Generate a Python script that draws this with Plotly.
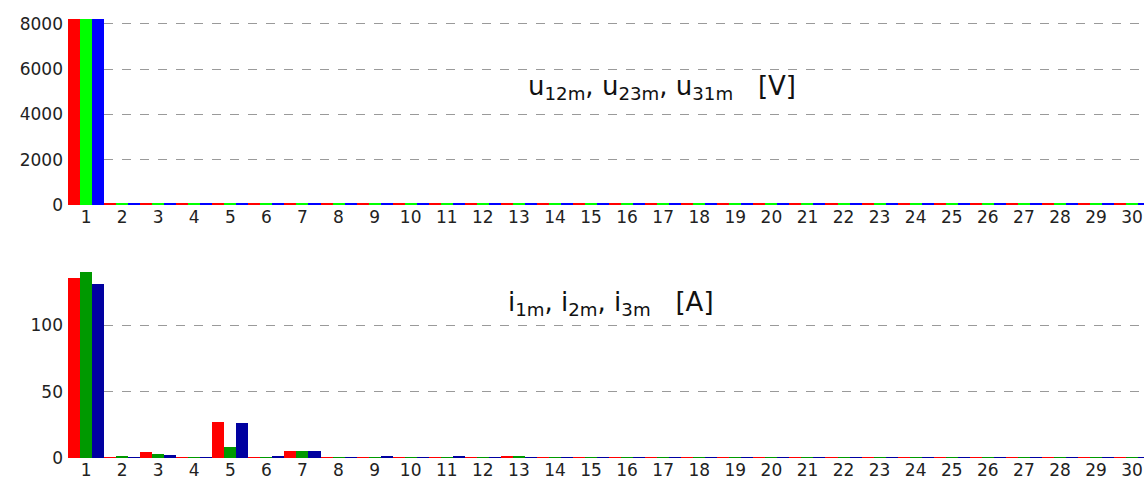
import plotly.graph_objects as go

harmonics = list(range(1, 31))

# Upper chart: line voltages [V]
u12 = [8230] + [90] * 29
u23 = [8230] + [90] * 29
u31 = [8230] + [90] * 29

# Lower chart: phase currents [A]
i1 = [135.3, 0.7, 4.5, 0.7, 27.0, 0.7, 5.0, 0.7, 0.7, 0.7, 0.7, 0.7, 1.5, 0.7, 0.7,
      0.7, 0.7, 0.7, 0.7, 0.7, 0.7, 0.7, 0.7, 0.7, 0.7, 0.7, 0.7, 0.7, 0.7, 0.7]
i2 = [140.3, 1.7, 3.2, 0.7, 8.3, 0.7, 5.0, 0.7, 0.7, 0.7, 0.7, 0.7, 1.5, 0.7, 0.7,
      0.7, 0.7, 0.7, 0.7, 0.7, 0.7, 0.7, 0.7, 0.7, 0.7, 0.7, 0.7, 0.7, 0.7, 0.7]
i3 = [131.3, 0.8, 2.2, 0.7, 26.3, 1.9, 5.0, 0.7, 1.7, 0.7, 1.7, 0.7, 0.7, 0.7, 0.7,
      0.7, 0.7, 0.7, 0.7, 0.7, 0.7, 0.7, 0.7, 0.7, 0.7, 0.7, 0.7, 0.7, 0.7, 0.7]

fig = go.Figure()
for vals, col in [(u12, "#FF0000"), (u23, "#00FF00"), (u31, "#0000FF")]:
    fig.add_trace(go.Bar(x=harmonics, y=vals, marker=dict(color=col, line=dict(width=0)),
                         xaxis="x", yaxis="y", showlegend=False))
for vals, col in [(i1, "#FF0000"), (i2, "#009900"), (i3, "#0000A0")]:
    fig.add_trace(go.Bar(x=harmonics, y=vals, marker=dict(color=col, line=dict(width=0)),
                         xaxis="x2", yaxis="y2", showlegend=False))

tickfont = dict(family="DejaVu Sans", size=17, color="#222222")
grid = dict(showgrid=True, gridcolor="#9a9a9a", griddash="dash", gridwidth=1,
            zeroline=False, showline=False, ticks="", tickfont=tickfont,
            ticklabelstandoff=4)
xax = dict(domain=[0, 1], range=[0.5, 30.33], tickmode="array", tickvals=harmonics,
           showgrid=False, zeroline=False, showline=False, ticks="", tickfont=tickfont)

fig.update_layout(
    width=1144, height=481,
    margin=dict(l=68, r=0, t=0, b=23),
    paper_bgcolor="white", plot_bgcolor="white",
    barmode="group", bargap=0, bargroupgap=0,
    xaxis=dict(anchor="y", **xax),
    yaxis=dict(domain=[0.5524, 1], anchor="x", range=[0, 9060],
               tickvals=[0, 2000, 4000, 6000, 8000], **grid),
    xaxis2=dict(anchor="y2", **xax),
    yaxis2=dict(domain=[0, 0.428], anchor="x2", range=[0, 147.6],
                tickvals=[0, 50, 100], **grid),
    annotations=[
        dict(text="u<sub>12m</sub>, u<sub>23m</sub>, u<sub>31m</sub>   [V]",
             xref="paper", yref="paper", x=0.552, y=0.849, showarrow=False,
             font=dict(family="DejaVu Sans", size=26, color="#111111")),
        dict(text="i<sub>1m</sub>, i<sub>2m</sub>, i<sub>3m</sub>   [A]",
             xref="paper", yref="paper", x=0.505, y=0.338, showarrow=False,
             font=dict(family="DejaVu Sans", size=26, color="#111111")),
    ],
)

fig.write_html("out.html", config={"displayModeBar": False},
               post_script="document.body.style.margin='0';document.body.style.overflow='hidden';")
